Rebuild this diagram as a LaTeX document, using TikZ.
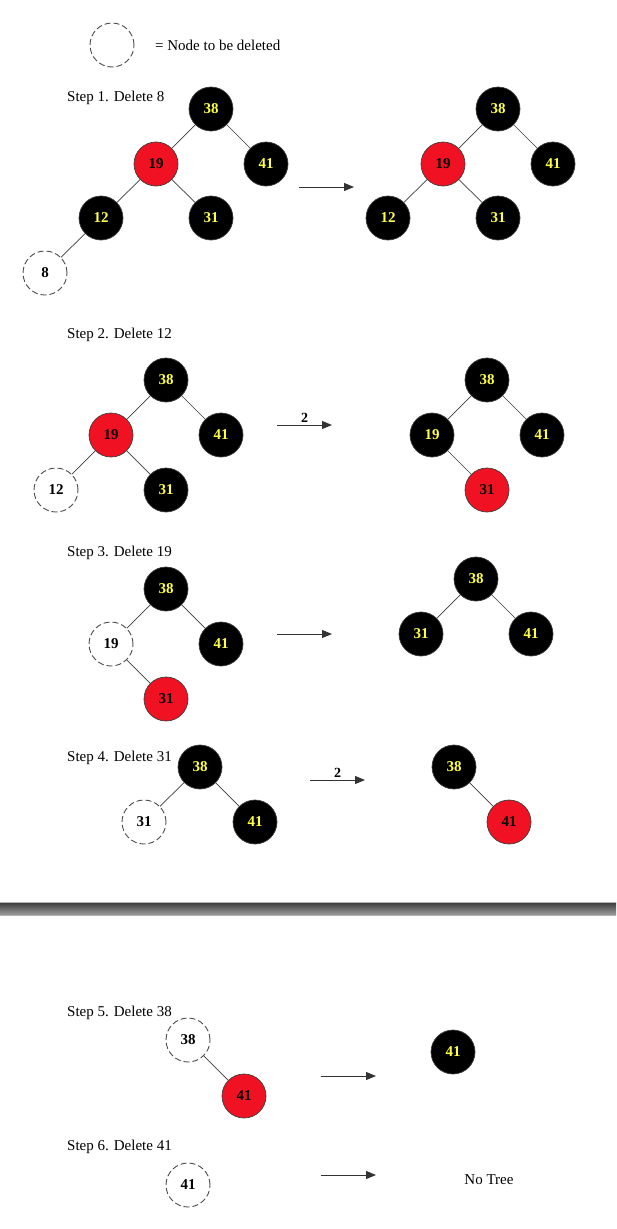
\documentclass[tikz,border=0pt]{standalone}
\usepackage{fontspec}
\setmainfont{Liberation Serif}
\usetikzlibrary{arrows.meta}
\definecolor{nodered}{RGB}{240,18,34}
\definecolor{numyellow}{RGB}{255,255,70}
\definecolor{edgegray}{RGB}{60,60,60}
\tikzset{
  rbnode/.style={circle,minimum size=44pt,inner sep=0pt,draw=edgegray,line width=0.7pt,
    font=\fontsize{15}{16}\selectfont\bfseries},
  blk/.style={rbnode,fill=black,text=numyellow},
  rd/.style={rbnode,fill=nodered,text=black},
  del/.style={rbnode,draw=black!70,line width=0.9pt,dash pattern=on 6pt off 3pt,fill=white,text=black},
  edge/.style={draw=edgegray,line width=0.7pt},
  go/.style={draw=black!80,line width=1pt,-{Triangle[length=10pt,width=8pt]}},
  steplabel/.style={anchor=base west,inner sep=0pt,font=\fontsize{15}{16}\selectfont},
  twolabel/.style={above,inner sep=2pt,font=\fontsize{14}{15}\selectfont\bfseries}
}
\begin{document}
\begin{tikzpicture}[x=1pt,y=-1pt]
\useasboundingbox (0,0) rectangle (616,1229);

\node[del] (key) at (112,45) {};
\node[steplabel,anchor=west] (keytext) at (155,45) {= Node to be deleted};

\node[steplabel] (st1) at (67,101) {Step 1. Delete 8};
\node[blk] (a38) at (211,109) {38};
\node[rd] (a19) at (156,164) {19};
\node[blk] (a41) at (266,164) {41};
\node[blk] (a12) at (101,218) {12};
\node[blk] (a31) at (211,218) {31};
\node[del] (a8) at (45,273) {8};
\draw[edge] (a38)--(a19) (a38)--(a41) (a19)--(a12) (a19)--(a31) (a12)--(a8);
\coordinate (g1s) at (299,187);
\coordinate (g1e) at (354,187);
\draw[go] (g1s)--(g1e);
\node[blk] (b38) at (498,109) {38};
\node[rd] (b19) at (443,164) {19};
\node[blk] (b41) at (553,164) {41};
\node[blk] (b12) at (388,218) {12};
\node[blk] (b31) at (498,218) {31};
\draw[edge] (b38)--(b19) (b38)--(b41) (b19)--(b12) (b19)--(b31);

\node[steplabel] (st2) at (67,338) {Step 2. Delete 12};
\node[blk] (c38) at (166,380) {38};
\node[rd] (c19) at (111,435) {19};
\node[blk] (c41) at (221,435) {41};
\node[del] (c12) at (56,490) {12};
\node[blk] (c31) at (166,490) {31};
\draw[edge] (c38)--(c19) (c38)--(c41) (c19)--(c12) (c19)--(c31);
\coordinate (g2s) at (277,425);
\coordinate (g2e) at (332,425);
\draw[go] (g2s)-- node[twolabel] {2} (g2e);
\node[blk] (d38) at (487,380) {38};
\node[blk] (d19) at (432,435) {19};
\node[blk] (d41) at (542,435) {41};
\node[rd] (d31) at (487,490) {31};
\draw[edge] (d38)--(d19) (d38)--(d41) (d19)--(d31);

\node[steplabel] (st3) at (67,556) {Step 3. Delete 19};
\node[blk] (e38) at (166,589) {38};
\node[del] (e19) at (111,644) {19};
\node[blk] (e41) at (221,644) {41};
\node[rd] (e31) at (166,699) {31};
\draw[edge] (e38)--(e19) (e38)--(e41) (e19)--(e31);
\coordinate (g3s) at (277,634);
\coordinate (g3e) at (332,634);
\draw[go] (g3s)--(g3e);
\node[blk] (f38) at (476,579) {38};
\node[blk] (f31) at (421,634) {31};
\node[blk] (f41) at (531,634) {41};
\draw[edge] (f38)--(f31) (f38)--(f41);

\node[steplabel] (st4) at (67,761) {Step 4. Delete 31};
\node[blk] (h38) at (200,767) {38};
\node[del] (h31) at (144,822) {31};
\node[blk] (h41) at (255,822) {41};
\draw[edge] (h38)--(h31) (h38)--(h41);
\coordinate (g4s) at (310,780);
\coordinate (g4e) at (365,780);
\draw[go] (g4s)-- node[twolabel] {2} (g4e);
\node[blk] (i38) at (454,767) {38};
\node[rd] (i41) at (509,822) {41};
\draw[edge] (i38)--(i41);

\shade[top color=black!78,bottom color=black!38] (0,902) rectangle (616,915);
\draw[black!30,line width=0.8pt] (0,902)--(616,902) (0,915)--(616,915);

\node[steplabel] (st5) at (67,1016) {Step 5. Delete 38};
\node[del] (j38) at (188,1040) {38};
\node[rd] (j41) at (244,1096) {41};
\draw[edge] (j38)--(j41);
\coordinate (g5s) at (321,1076);
\coordinate (g5e) at (376,1076);
\draw[go] (g5s)--(g5e);
\node[blk] (k41) at (453,1052) {41};

\node[steplabel] (st6) at (67,1150) {Step 6. Delete 41};
\node[del] (m41) at (188,1185) {41};
\coordinate (g6s) at (321,1175);
\coordinate (g6e) at (376,1175);
\draw[go] (g6s)--(g6e);
\node[font=\fontsize{15}{16}\selectfont] (notree) at (489,1180) {No Tree};
\end{tikzpicture}
\end{document}
